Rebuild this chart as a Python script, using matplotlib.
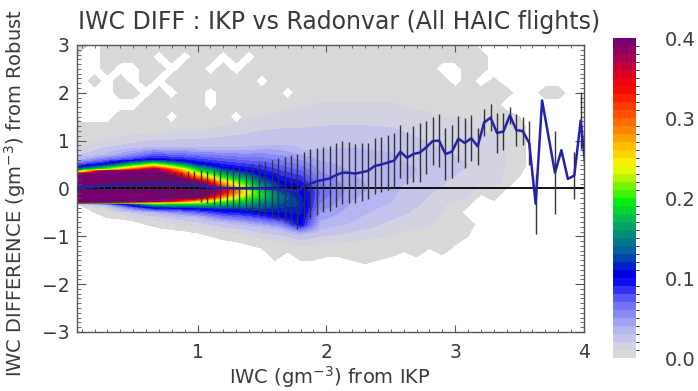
import numpy as np
import matplotlib
matplotlib.use("Agg")
import matplotlib.pyplot as plt
from matplotlib.colors import LinearSegmentedColormap, ListedColormap, BoundaryNorm
from matplotlib.cm import ScalarMappable

nan = np.nan

# ---------------- line + error bars (bin means and spread) ----------------
line_x = [0.075, 0.125, 0.175, 0.225, 0.275, 0.325, 0.375, 0.425, 0.475, 0.525,
          0.575, 0.625, 0.675, 0.725, 0.775, 0.825, 0.875, 0.925, 0.975, 1.025,
          1.075, 1.125, 1.175, 1.225, 1.275, 1.325, 1.375, 1.425, 1.475, 1.525,
          1.575, 1.625, 1.675, 1.725, 1.775, 1.825, 1.875, 1.925, 1.975, 2.025,
          2.075, 2.125, 2.175, 2.225, 2.275, 2.325, 2.375, 2.425, 2.475, 2.525,
          2.575, 2.625, 2.675, 2.725, 2.775, 2.825, 2.875, 2.925, 2.975, 3.025,
          3.075, 3.125, 3.175, 3.225, 3.275, 3.325, 3.375, 3.425, 3.475, 3.525,
          3.575, 3.625, 3.675, 3.775, 3.825, 3.875, 3.925, 3.975, 4.025]
line_y = [0.01, 0.02, 0.03, 0.04, 0.05, 0.06, 0.07, 0.08, 0.08, 0.09,
          0.09, 0.10, 0.10, 0.11, 0.10, 0.09, 0.08, 0.07, 0.06, 0.05,
          0.03, 0.02, 0.01, 0.01, 0.00, 0.00, 0.00, 0.00, 0.00, 0.00,
          -0.01, -0.01, -0.02, -0.03, -0.06, 0.05, 0.10, 0.15, 0.18, 0.21,
          0.28, 0.33, 0.33, 0.31, 0.34, 0.37, 0.47, 0.50, 0.54, 0.58,
          0.77, 0.64, 0.72, 0.75, 0.86, 0.99, 1.00, 0.72, 0.77, 1.04,
          0.95, 1.05, 0.88, 1.38, 1.48, 1.16, 1.19, 1.53, 1.22, 1.20,
          0.95, -0.32, 1.84, 0.33, 0.80, 0.20, 0.27, 1.42, 0.10]
line_err = [0.08, 0.10, 0.11, 0.12, 0.13, 0.14, 0.15, 0.16, 0.17, 0.18,
            0.19, 0.20, 0.21, 0.22, 0.23, 0.25, 0.27, 0.29, 0.31, 0.33,
            0.34, 0.36, 0.38, 0.40, 0.42, 0.45, 0.48, 0.51, 0.54, 0.57,
            0.60, 0.64, 0.68, 0.73, 0.78, 0.72, 0.72, 0.70, 0.68, 0.68,
            0.66, 0.66, 0.64, 0.62, 0.60, 0.58, 0.58, 0.57, 0.58, 0.58,
            0.55, 0.55, 0.58, 0.62, 0.55, 0.50, 0.55, 0.55, 0.55, 0.48,
            0.52, 0.48, 0.38, 0.28, 0.28, 0.42, 0.38, 0.18, 0.33, 0.30,
            0.45, 0.63, 0.00, 0.87, 0.00, 0.00, 0.49, 0.60, 0.00]

# ---------------- density field (>= 0.01), read as contour positions per column ----------------
col_x = [0.05, 0.27, 0.66, 1.0, 1.2, 1.36, 1.5, 1.65, 1.8, 1.95, 2.2, 2.5, 2.8, 3.1, 3.35, 3.6, 4.0]
peak_v = [0.60, 0.60, 0.60, 0.50, 0.36, 0.25, 0.19, 0.14, 0.12, 0.07, 0.045, 0.035, 0.028, 0.02, 0.012, 0.0, 0.0]
peak_y = [0.00, 0.03, 0.06, -0.03, -0.05, -0.08, -0.13, -0.20, -0.35, -0.10, 0.00, 0.30, 0.40, 0.50, 0.60, 0.6, 0.6]
up40 = [0.31, 0.36, 0.39, 0.13, nan, nan, nan, nan, nan, nan, nan, nan, nan, nan, nan, nan, nan]
lo40 = [-0.29, -0.29, -0.27, -0.18, nan, nan, nan, nan, nan, nan, nan, nan, nan, nan, nan, nan, nan]
up30 = [0.32, 0.37, 0.44, 0.22, 0.05, nan, nan, nan, nan, nan, nan, nan, nan, nan, nan, nan, nan]
lo30 = [-0.295, -0.295, -0.28, -0.23, -0.15, nan, nan, nan, nan, nan, nan, nan, nan, nan, nan, nan, nan]
up20 = [0.34, 0.40, 0.52, 0.36, 0.22, 0.12, nan, nan, nan, nan, nan, nan, nan, nan, nan, nan, nan]
lo20 = [-0.30, -0.30, -0.31, -0.31, -0.27, -0.22, nan, nan, nan, nan, nan, nan, nan, nan, nan, nan, nan]
up10 = [0.44, 0.50, 0.60, 0.52, 0.44, 0.38, 0.30, 0.15, 0.05, nan, nan, nan, nan, nan, nan, nan, nan]
lo10 = [-0.305, -0.31, -0.40, -0.42, -0.46, -0.48, -0.52, -0.58, -0.75, nan, nan, nan, nan, nan, nan, nan, nan]
up03 = [0.60, 0.69, 0.86, 0.85, 0.85, 0.85, 0.90, 0.90, 0.80, 0.80, 0.85, 0.75, nan, nan, nan, nan, nan]
lo03 = [-0.31, -0.33, -0.50, -0.60, -0.70, -0.75, -0.80, -0.85, -0.95, -0.85, -0.70, -0.30, nan, nan, nan, nan, nan]
up01 = [0.80, 1.00, 1.15, 1.20, 1.30, 1.40, 1.50, 1.60, 1.70, 1.80, 1.80, 1.80, 1.60, 1.40, 1.10, nan, nan]
lo01 = [-0.315, -0.40, -0.65, -0.80, -0.90, -0.95, -1.05, -1.10, -1.20, -1.15, -1.10, -1.00, -0.80, -0.20, 0.10, nan, nan]

# ---------------- sparse grey area (any data), per 0.1 column, on a 0.25 grid ----------------
grey_x = [round(0.1 * k, 1) for k in range(41)]
grey_lo = [-0.30, -0.35, -0.50, -0.60, -0.65, -0.70, -0.75, -0.80, -0.85, -0.90,
           -0.95, -1.00, -1.05, -1.10, -1.20, -1.25, -1.50, -1.30, -1.50, -1.50,
           -1.45, -1.45, -1.50, -1.55, -1.50, -1.45, -1.30, -1.45, -1.25, -1.40,
           -1.20, -1.00, -1.00, -0.25, 0.00, 0.25, nan, nan, nan, nan, nan]
grey_hi = [3.2] * 32 + [2.9, 2.3, 2.1, 1.5, nan, nan, nan, nan, nan]
hole_x = [0.2, 0.1, 0.2, 0.7, 0.9, 0.1, 0.2, 0.4, 0.5, 0.8, 0.1, 0.3, 0.5, 0.7,
          0.1, 0.2, 0.3, 0.6, 0.8, 0.1, 0.2, 0.3, 0.4, 0.5, 0.1, 0.2, 0.3, 0.8,
          1.1, 1.1, 1.1, 1.2, 1.3, 1.4, 1.5, 1.7, 1.3,
          2.9, 3.0, 3.0, 3.2, 3.4, 3.1, 3.2, 3.2, 3.2]
hole_y = [3.0, 2.75, 2.75, 2.75, 2.75, 2.5, 2.5, 2.5, 2.5, 2.5, 2.25, 2.25, 2.25, 2.25,
          2.0, 2.0, 2.0, 2.0, 2.0, 1.75, 1.75, 1.75, 1.75, 1.75, 1.5, 1.5, 1.5, 1.5,
          2.5, 2.0, 1.75, 2.75, 2.5, 2.75, 2.25, 2.0, 1.5,
          2.5, 2.5, 2.25, 2.25, 1.75, -0.5, -0.25, -0.5, -0.75]
dot_x = [3.7, 3.8]
dot_y = [2.0, 2.0]

cbar_ticks = [0.0, 0.1, 0.2, 0.3, 0.4]

# ---------------- build the fields ----------------
yf = np.linspace(-3, 3, 301)
xf = np.linspace(0.0, 4.05, 325)

lower_sets = [(lo01, 0.01), (lo03, 0.03), (lo10, 0.1), (lo20, 0.2), (lo30, 0.3), (lo40, 0.4)]
upper_sets = [(up40, 0.4), (up30, 0.3), (up20, 0.2), (up10, 0.1), (up03, 0.03), (up01, 0.01)]

cols = []
for i in range(len(col_x)):
    if peak_v[i] <= 0:
        cols.append(np.zeros_like(yf))
        continue
    ys, vs = [], []
    for arr, lev in lower_sets:
        if not np.isnan(arr[i]):
            ys.append(arr[i]); vs.append(lev)
    ys.append(peak_y[i]); vs.append(peak_v[i])
    for arr, lev in upper_sets:
        if not np.isnan(arr[i]):
            ys.append(arr[i]); vs.append(lev)
    ys = [ys[0] - 0.15] + ys + [ys[-1] + 0.3]
    vs = [0.0] + vs + [0.0]
    cols.append(np.interp(yf, ys, vs, left=0, right=0))
Fn = np.array(cols).T
F = np.array([np.interp(xf, col_x, row) for row in Fn])
F = np.minimum(F, 0.3999)

gy = np.arange(-3.0, 3.001, 0.25)
O = np.zeros((len(gy), len(grey_x)))
for i in range(len(grey_x)):
    if np.isnan(grey_lo[i]):
        continue
    a = np.clip((gy - grey_lo[i]) / 0.25 + 0.5, 0, 1)
    b = np.clip((grey_hi[i] - gy) / 0.25 + 0.5, 0, 1)
    O[:, i] = np.minimum(a, b)
for x0, y0 in zip(hole_x, hole_y):
    O[np.argmin(abs(gy - y0)), grey_x.index(round(x0, 1))] = 0.0
for x0, y0 in zip(dot_x, dot_y):
    O[np.argmin(abs(gy - y0)), grey_x.index(round(x0, 1))] = 1.0

# ---------------- colours ----------------
stops = [(0.000, (217, 217, 217)), (0.012, (213, 213, 224)), (0.030, (190, 190, 238)),
         (0.050, (150, 150, 245)), (0.075, (90, 90, 250)), (0.095, (10, 10, 240)),
         (0.105, (0, 0, 225)), (0.120, (0, 50, 190)), (0.135, (0, 100, 150)),
         (0.155, (0, 140, 120)), (0.175, (0, 190, 80)), (0.195, (0, 240, 10)),
         (0.215, (120, 245, 0)), (0.240, (250, 250, 0)), (0.265, (255, 190, 0)),
         (0.290, (255, 120, 0)), (0.315, (255, 60, 0)), (0.335, (250, 10, 0)),
         (0.355, (220, 0, 30)), (0.375, (170, 0, 80)), (0.400, (110, 0, 120))]
cmap = LinearSegmentedColormap.from_list(
    "idl", [(v / 0.4, tuple(c / 255 for c in rgb)) for v, rgb in stops])
all_levels = [0.01 * k for k in range(0, 41)]
grey = (217 / 255, 217 / 255, 217 / 255)
band_colors = [grey] + [cmap((all_levels[k] + all_levels[k + 1]) / 2 / 0.4) for k in range(1, 40)]

# ---------------- figure ----------------
plt.rcParams['font.family'] = ['DejaVu Sans']
txt = '#3a3a3a'
fig = plt.figure(figsize=(6.98, 3.91), dpi=100)
ax = fig.add_axes([0.1096, 0.151, 0.727, 0.734])
ax.contourf(grey_x, gy, O, levels=[0.5, 2.0], colors=[grey], zorder=0.5)
ax.contourf(xf, yf, F, levels=all_levels[1:], colors=band_colors[1:], zorder=1)
ax.axhline(0, color='black', lw=1.3, zorder=2)
ax.errorbar(line_x, line_y, yerr=line_err, fmt='none', ecolor='#333333',
            elinewidth=1.0, capsize=0, zorder=3)
ax.plot(line_x, line_y, color='#2323aa', lw=1.8, zorder=4)

ax.set_xlim(0.06, 4.0)
ax.set_ylim(-3, 3)
ax.set_xticks([1, 2, 3, 4])
ax.set_yticks([-3, -2, -1, 0, 1, 2, 3])
ax.set_xticks(np.arange(0.1, 4.0, 0.1), minor=True)
ax.set_yticks(np.arange(-3, 3.0, 0.1), minor=True)
ax.tick_params(which='both', direction='in', top=True, right=True, color='#555555',
               labelcolor=txt, labelsize=13.5)
ax.tick_params(axis='x', which='major', length=5, pad=8)
ax.tick_params(axis='x', which='minor', length=2.5)
ax.tick_params(axis='y', which='major', length=6.5, pad=5)
ax.tick_params(axis='y', which='minor', length=3)
for s in ax.spines.values():
    s.set_color('#555555')
    s.set_linewidth(1.0)

fig.text(0.486, 0.944, 'IWC DIFF : IKP vs Radonvar (All HAIC flights)', ha='center',
         va='center', fontsize=17, color=txt)
fig.text(0.473, 0.036, 'IWC (gm$^{-3}$) from IKP', ha='center', va='center',
         fontsize=14, color=txt)
fig.text(0.022, 0.505, 'IWC DIFFERENCE (gm$^{-3}$) from Robust', ha='center', va='center',
         rotation=90, fontsize=14, color=txt)

cax = fig.add_axes([613 / 698, 33 / 391, 23 / 698, 320 / 391])
sm = ScalarMappable(norm=BoundaryNorm(all_levels, 40), cmap=ListedColormap(band_colors))
cb = fig.colorbar(sm, cax=cax)
cb.outline.set_visible(False)
cb.set_ticks(cbar_ticks)
cb.set_ticklabels(['%.1f' % t for t in cbar_ticks])
cax.tick_params(length=0, pad=21, labelsize=14, labelcolor=txt)

fig.savefig('out.png', dpi=100)
